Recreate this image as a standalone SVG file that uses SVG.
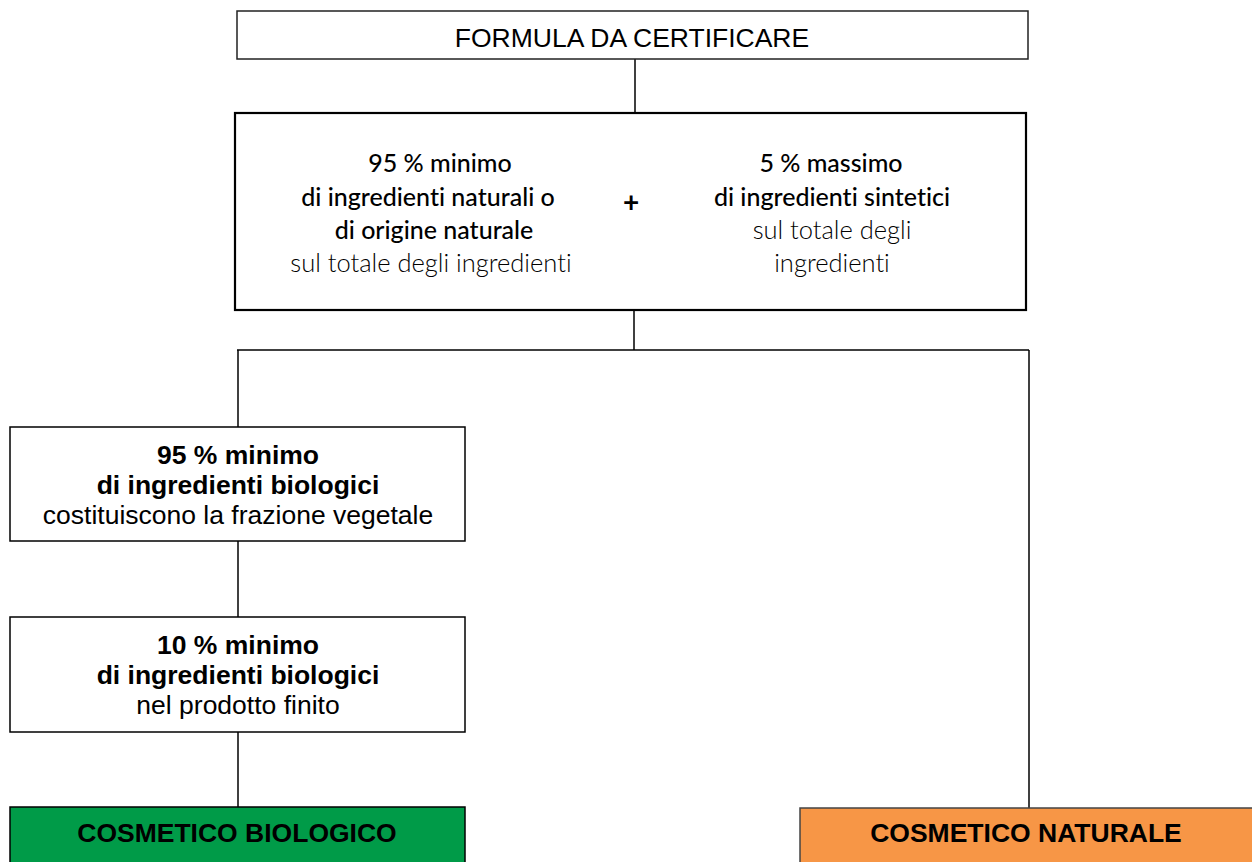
<svg xmlns="http://www.w3.org/2000/svg" width="1252" height="862" viewBox="0 0 1252 862">
<style>
.box{fill:#fff;stroke:#000;stroke-width:1.5}
.mid{fill:#fff;stroke:#000;stroke-width:2.2}
.ar{font-family:"Liberation Sans",Arial,sans-serif;font-size:26.5px;fill:#000;text-anchor:middle}
.b{font-weight:bold}
.cb{font-family:Lato,"Open Sans",sans-serif;font-size:25px;fill:#000;text-anchor:middle;font-variant-ligatures:none}
.cbb{font-weight:500}
.cl{font-weight:300;font-size:25.5px}
.conn{stroke:#000;stroke-width:1.5;fill:none}
</style>
<rect width="1252" height="862" fill="#fff"/>
<g id="connectors">
<line class="conn" x1="635" y1="59" x2="635" y2="113"/>
<line class="conn" x1="634" y1="310" x2="634" y2="350"/>
<line class="conn" x1="237" y1="350" x2="1029" y2="350"/>
<line class="conn" x1="238" y1="350" x2="238" y2="427"/>
<line class="conn" x1="1029" y1="350" x2="1029" y2="808"/>
<line class="conn" x1="238" y1="541" x2="238" y2="617"/>
<line class="conn" x1="238" y1="732" x2="238" y2="807"/>
</g>
<g id="formula">
<rect class="box" x="237" y="11" width="791" height="48" style="stroke:#222"/>
<text class="ar" x="632" y="47">FORMULA DA CERTIFICARE</text>
</g>
<g id="requisiti">
<rect class="mid" x="235" y="113" width="791" height="197"/>
<text class="cb cbb" x="440" y="172">95 % minimo</text>
<text class="cb cbb" x="428" y="206">di ingredienti naturali o</text>
<text class="cb cbb" x="434" y="239">di origine naturale</text>
<text class="cb cl" x="431" y="272">sul totale degli ingredienti</text>
<text class="cb b" x="631" y="212" style="font-size:28px">+</text>
<text class="cb cbb" x="831" y="172">5 % massimo</text>
<text class="cb cbb" x="832" y="206">di ingredienti sintetici</text>
<text class="cb cl" x="832" y="239">sul totale degli</text>
<text class="cb cl" x="832" y="272">ingredienti</text>
</g>
<g id="bio95">
<rect class="box" x="10" y="427" width="455" height="114"/>
<text class="ar b" x="238" y="464">95 % minimo</text>
<text class="ar b" x="238" y="494">di ingredienti biologici</text>
<text class="ar" x="238" y="524">costituiscono la frazione vegetale</text>
</g>
<g id="bio10">
<rect class="box" x="10" y="617" width="455" height="115"/>
<text class="ar b" x="238" y="654">10 % minimo</text>
<text class="ar b" x="238" y="684">di ingredienti biologici</text>
<text class="ar" x="238" y="714">nel prodotto finito</text>
</g>
<g id="biologico">
<rect x="10" y="807" width="455" height="60" fill="#009B48" stroke="#000" stroke-width="1.5"/>
<text class="ar b" x="237" y="842">COSMETICO BIOLOGICO</text>
</g>
<g id="naturale">
<rect x="800" y="808" width="460" height="60" fill="#F79646" stroke="#444" stroke-width="1.5"/>
<text class="ar b" x="1026" y="842">COSMETICO NATURALE</text>
</g>
</svg>
